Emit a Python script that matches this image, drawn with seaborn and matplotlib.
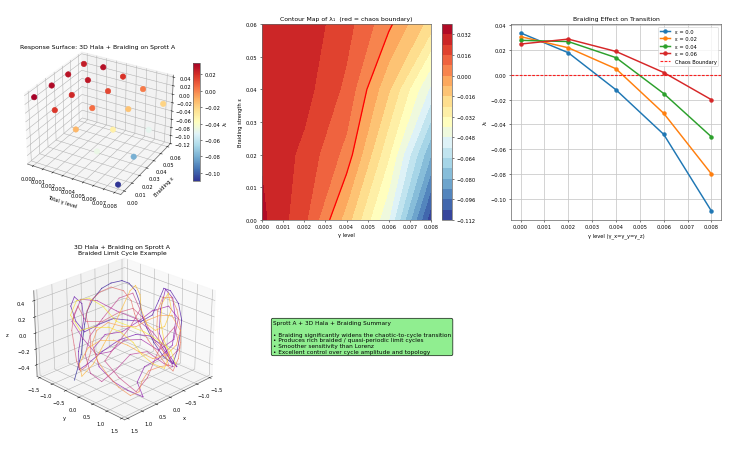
import numpy as np
import pandas as pd
import matplotlib
matplotlib.use("Agg")
import matplotlib.pyplot as plt
import seaborn as sns

sns.set_style("ticks")
plt.rcParams.update(plt.rcParamsDefault)
plt.rcParams['font.family'] = ['DejaVu Sans']
plt.rcParams['font.size'] = 8
plt.rcParams['axes.linewidth'] = 1.1
plt.rcParams['axes.edgecolor'] = '#666666'

gamma_levels = [0.0, 0.002, 0.004, 0.006, 0.008]
eps_levels = [0.0, 0.02, 0.04, 0.06]
lam_eps0 = [0.034, 0.018, -0.012, -0.048, -0.110]
lam_eps2 = [0.031, 0.022, 0.005, -0.031, -0.080]
lam_eps4 = [0.028, 0.027, 0.014, -0.015, -0.050]
lam_eps6 = [0.025, 0.029, 0.019, 0.002, -0.020]
line_colors = ['#1f77b4', '#ff7f0e', '#2ca02c', '#d62728']

traj_x = [1.64,1.37,1.12,.85,.57,.30,0,-.34,-.61,-.85,-.93,-.92,-.78,-.60,-.48,-.37,-.30,-.35,-.63,-.94,-1.25,-1.48,-1.56,-1.48,-1.17,-.80,-.50,-.27,-.05,.30,.70,.68,.53,.30,.28,.49,.83,1.12,1.40,1.15,.70,.22,-.18,-.40,-.45,-.37,-.37,-.45,-.62,-1.05,-1.50,-1.48,-1.12,-.65,-.18,.20,.58,.70,.87,.98,1.0,.80,.37,.03,-.45,-.88,-1.25,-1.22,-.78,-.32,-.20,.12,.55,.85,.83,.75,.22,-.05,-.23,-.45,-.52,-.47,-.30,-.20,-.10,.25,.75,1.18,1.25,1.05,.67,.15,-.50,-.83,-.68,-.20,.35,.80,.82,.75,.32,-.15,-.60,-1.0,-.73,-.38,-.40,-.60,-.57,-.25,.20,.50,.40,
          .62,.90,1.10,1.30,1.40,1.23,.90,.62,.40,.07,-.25,-.53,-.70,-.67,-.50,-.38,-.30,-.26,-.22,-.23,-.53,-.85,-1.12,-1.35,-1.47,-1.32,-.98,-.70,-.47,-.34,-.26,-.07,.20,.48,.70,.90,.98,.98,.93,.76,.45,.12,-.07,-.30,-.64,-.95,-1.15,-1.05,-.72,-.40,-.08,.05,.15,.32,.54,.90,1.30,1.45,1.05,.58,.10,-.37,-.82,-1.02,-.93,-.70,-.55,-.60,-.84,-1.25,-1.48,-1.18,-.85,-.60,-.45,-.12,0,.05,0,.06,.20,.45,.75,.68,.33,.05,-.05,-.05,-.22,-.37,-.48,-.54,-.40]
traj_y = [-.12,-.27,-.42,-.65,-.87,-1.06,-1.16,-1.18,-1.11,-.95,-.77,-.52,-.22,.04,.32,.67,1.06,1.35,1.23,1.04,.81,.48,.12,-.04,.07,.20,.10,-.17,-.45,-.60,-.74,-1.08,-1.43,-1.54,-1.28,-.99,-.73,-.52,-.20,-.15,-.10,.02,.22,.50,.85,1.27,1.47,1.05,.62,.25,0,.28,.72,1.05,1.02,.90,1.02,1.34,.97,.58,.10,-.30,-.33,-.07,.05,.12,.35,.72,.98,.88,.40,.12,.05,-.15,-.67,-1.15,-1.38,-1.05,-.53,-.05,.48,.97,1.40,1.20,.70,.45,.45,.38,.05,-.35,-.57,-.65,-.70,-.53,-.12,0,.05,.10,.62,1.15,1.12,.95,.80,.80,1.23,1.22,.70,.10,-.27,-.45,-.60,-.90,-1.30,
          -1.22,-1.0,-.70,-.40,-.16,-.13,-.30,-.62,-1.0,-1.17,-1.15,-1.03,-.74,-.43,-.14,.18,.54,.90,1.22,1.47,1.37,1.15,.88,.55,.23,.08,.22,.46,.77,1.10,1.30,1.17,1.04,1.08,1.20,1.10,.78,.38,-.03,-.40,-.55,-.48,-.17,.10,.20,.35,.55,.95,1.12,1.10,.92,.55,.25,-.08,-.30,-.40,-.30,-.05,-.05,-.18,-.30,-.47,-.62,-.62,-.37,-.10,.25,.50,.60,.45,.12,.18,.45,.80,1.15,1.28,1.0,.65,.30,-.10,-.40,-.65,-.85,-1.28,-1.43,-1.25,-.85,-.35,-.02,.33,.72,1.10,1.40]
traj_z = [-.35,-.25,-.16,-.05,.07,.17,.26,.35,.39,.41,.39,.33,.23,.13,.04,-.07,-.17,-.23,-.14,-.02,.10,.23,.33,.35,.25,.14,.09,.10,.11,.07,.01,.09,.21,.28,.23,.11,-.02,-.14,-.27,-.23,-.14,-.05,-.01,-.02,-.09,-.21,-.25,-.14,0,.18,.34,.27,.09,-.09,-.19,-.25,-.36,-.47,-.42,-.36,-.25,-.11,-.01,.01,.09,.17,.21,.11,-.05,-.13,-.05,-.05,-.14,-.16,-.04,.09,.26,.25,.17,.11,.01,-.11,-.25,-.23,-.14,-.16,-.27,-.36,-.30,-.16,-.02,.11,.27,.31,.18,.05,-.09,-.21,-.33,-.43,-.33,-.18,-.05,.05,-.11,-.19,-.07,.11,.19,.16,.09,.09,.21,
          .14,.02,-.09,-.21,-.28,-.25,-.14,0,.14,.25,.32,.36,.33,.25,.15,.05,-.05,-.15,-.23,-.28,-.19,-.07,.05,.18,.28,.28,.17,.05,-.07,-.17,-.24,-.25,-.28,-.36,-.43,-.46,-.40,-.31,-.21,-.08,.02,.08,.05,.05,.10,.14,.14,.02,-.09,-.16,-.19,-.14,-.09,-.05,-.05,-.11,-.23,-.32,-.23,-.09,.05,.19,.33,.37,.30,.18,.07,.02,.05,.18,.31,.23,.09,-.05,-.16,-.26,-.23,-.16,-.07,.01,.05,.05,.02,.14,.25,.27,.21,.09,.05,.01,-.05,-.13,-.23]

summary_title = "Sprott A + 3D Hala + Braiding Summary"
summary_points = [
    "Braiding significantly widens the chaotic-to-cycle transition",
    "Produces rich braided / quasi-periodic limit cycles",
    "Smoother sensitivity than Lorenz",
    "Excellent control over cycle amplitude and topology",
]

W, H = 736, 452
DPI = 46
def box(l, t, r, b):
    return [l / W, 1 - b / H, (r - l) / W, (b - t) / H]

lam = np.array([lam_eps0, lam_eps2, lam_eps4, lam_eps6])
G, E = np.meshgrid(gamma_levels, eps_levels)

fig = plt.figure(figsize=(W / DPI, H / DPI), dpi=DPI)

# Panel 1: 3D scatter
ax1 = fig.add_axes(box(15, 40, 181, 206), projection='3d')
sc = ax1.scatter(G.ravel(), E.ravel(), lam.ravel(), c=lam.ravel(), cmap='RdYlBu_r', s=70, depthshade=False)
ax1.set_xlabel('Total γ level', labelpad=4)
ax1.set_ylabel('Braiding ε', labelpad=4)
ax1.set_title('Response Surface: 3D Hala + Braiding on Sprott A', y=1.005)
cax1 = fig.add_axes(box(193, 64, 200, 182))
cb1 = fig.colorbar(sc, cax=cax1)
cb1.set_label('λ₁')

# Panel 2: contour
ax2 = fig.add_axes(box(262, 25, 431, 221))
cf = ax2.contourf(G, E, lam, levels=20, cmap='RdYlBu_r')
ax2.contour(G, E, lam, levels=[0], colors='red', linewidths=2)
ax2.set_xlabel('γ level')
ax2.set_ylabel('Braiding strength ε')
ax2.set_title('Contour Map of λ₁  (red = chaos boundary)')
cax2 = fig.add_axes(box(442, 25, 452, 221))
fig.colorbar(cf, cax=cax2)

# Panel 3: lines
ax3 = fig.add_axes(box(511, 25, 721, 221))
names = [f'ε = {e}' for e in eps_levels]
df = pd.DataFrame({
    'gamma': gamma_levels * 4,
    'lam': lam.ravel(),
    'series': [n for n in names for _ in gamma_levels],
})
sns.lineplot(data=df, x='gamma', y='lam', hue='series', palette=line_colors, marker='o',
             markeredgecolor=None, linewidth=2.3, markersize=6, ax=ax3, errorbar=None)
ax3.plot([0, 1], [0, 0], transform=ax3.get_yaxis_transform(), color='#ff0000',
         linestyle=(0, (2.4, 1.2)), linewidth=1.8, alpha=0.85, label='Chaos Boundary', zorder=3)
ax3.set_xlabel('γ level (γ_x=γ_y=γ_z)')
ax3.set_ylabel('λ₁')
ax3.set_title('Braiding Effect on Transition')
ax3.grid(True, color='#c8c8c8', alpha=0.8, linewidth=1.5)
ax3.legend(loc='upper right')

# Panel 4: trajectory
ax4 = fig.add_axes(box(18, 240, 226, 436), projection='3d')
n = len(traj_x)
cm = plt.get_cmap('plasma')
for i in range(n - 1):
    ax4.plot(traj_x[i:i + 2], traj_y[i:i + 2], traj_z[i:i + 2], color=cm(i / n), lw=1.2, alpha=0.7)
ax4.set_xlim(-1.6, 1.6)
ax4.set_ylim(-1.6, 1.6)
ax4.set_zlim(-0.55, 0.52)
ax4.set_xticks([-1.5, -1, -.5, 0, .5, 1, 1.5])
ax4.set_yticks([-1.5, -1, -.5, 0, .5, 1, 1.5])
ax4.set_zticks([-.4, -.2, 0, .2, .4])
ax4.view_init(elev=25, azim=45)
ax4.set_xlabel('x')
ax4.set_ylabel('y')
ax4.set_zlabel('z')
ax4.set_title('3D Hala + Braiding on Sprott A\nBraided Limit Cycle Example', y=0.985)

# Panel 5: summary
ax5 = fig.add_axes(box(262, 240, 431, 436))
ax5.axis('off')
text = summary_title + "\n\n" + "\n".join("• " + p for p in summary_points)
ax5.text(0.065, 0.5, text, transform=ax5.transAxes, va='center', fontsize=9,
         bbox=dict(boxstyle='round', facecolor='lightgreen'))

fig.savefig('out.png', dpi=DPI)
